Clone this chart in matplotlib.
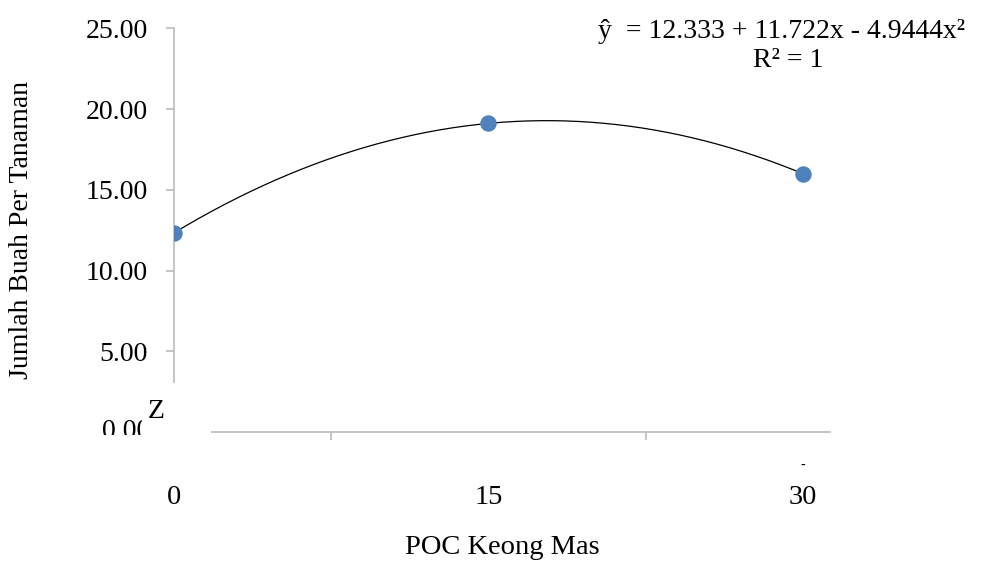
import numpy as np
import matplotlib
matplotlib.use("Agg")
import matplotlib.pyplot as plt
from matplotlib.transforms import Bbox

plt.rcParams['font.family'] = ['Liberation Serif', 'DejaVu Serif']

# data
dosis = [0, 15, 30]          # POC Keong Mas
kode = [0, 1, 2]             # coded x used in the trendline equation
buah = [12.333, 19.111, 16.0]
yticks = [5, 10, 15, 20, 25]
xlabels = ['0', '15', '30']
eq_text = 'ŷ  = 12.333 + 11.722x - 4.9444x²'
r2_text = 'R² = 1'

fs = 20
fig = plt.figure(figsize=(9.84, 5.65), dpi=100)
W, H = 984, 565
ax = fig.add_axes([174 / W, (H - 432) / H, (830 - 174) / W, (432 - 28.3) / H])
ax.set_xlim(0, 31.3)
ax.set_ylim(0, 25)

# trendline (2nd order poly, coded x)
coef = np.polyfit(kode, buah, 2)
xs = np.linspace(0, 30, 200)
ax.plot(xs, np.polyval(coef, xs / 15), color='black', lw=0.9, zorder=2)
ax.scatter(dosis, buah, s=140, color='#4f81bd', zorder=3, linewidths=0)

grey = '#bfbfbf'
for s in ['top', 'right']:
    ax.spines[s].set_visible(False)
ax.spines['left'].set_bounds(3.1, 25)
ax.spines['bottom'].set_bounds(1.8, 31.3)
for s in ['left', 'bottom']:
    ax.spines[s].set_color(grey)
    ax.spines[s].set_linewidth(1.3)

ax.set_yticks(yticks)
ax.set_yticklabels(['%.2f' % v for v in yticks])
ax.tick_params(axis='y', length=6, width=1.3, color=grey, pad=13, labelsize=fs)

ax.set_xticks(dosis)
ax.set_xticklabels(xlabels)
ax.set_xticks([7.5, 15, 22.5, 30], minor=True)
ax.tick_params(axis='x', which='major', length=0, pad=38, labelsize=20.5)
ax.tick_params(axis='x', which='minor', length=6, width=1.3, color=grey, direction='out')

ax.set_ylabel('Jumlah Buah Per Tanaman', fontsize=fs)
ax.set_xlabel('POC Keong Mas', fontsize=20.5, labelpad=18)
ax.yaxis.set_label_coords((34 - 174) / 656, 0.5)

# clipped "0.00" label and stray marks
yt = ax.get_yaxis_transform()
t0 = ax.text(-24 / 656, 0, '0.00', transform=yt, ha='right', va='center', fontsize=fs)
t0.set_clip_box(Bbox.from_extents(0, H - 435, 141.7, H))
t0.set_clip_on(True)
ax.text(-18 / 656, 21 / 403.7, 'Z', transform=ax.transAxes, ha='center', va='center',
        fontsize=fs)
ax.text(30, -33 / 16.15, '-', ha='center', va='center', fontsize=10, clip_on=False)

# equation
fig.text(598 / W, 1 - 38 / H, eq_text, ha='left', va='baseline', fontsize=20)
fig.text(788 / W, 1 - 67 / H, r2_text, ha='center', va='baseline', fontsize=20)

fig.savefig('out.png', dpi=100)
